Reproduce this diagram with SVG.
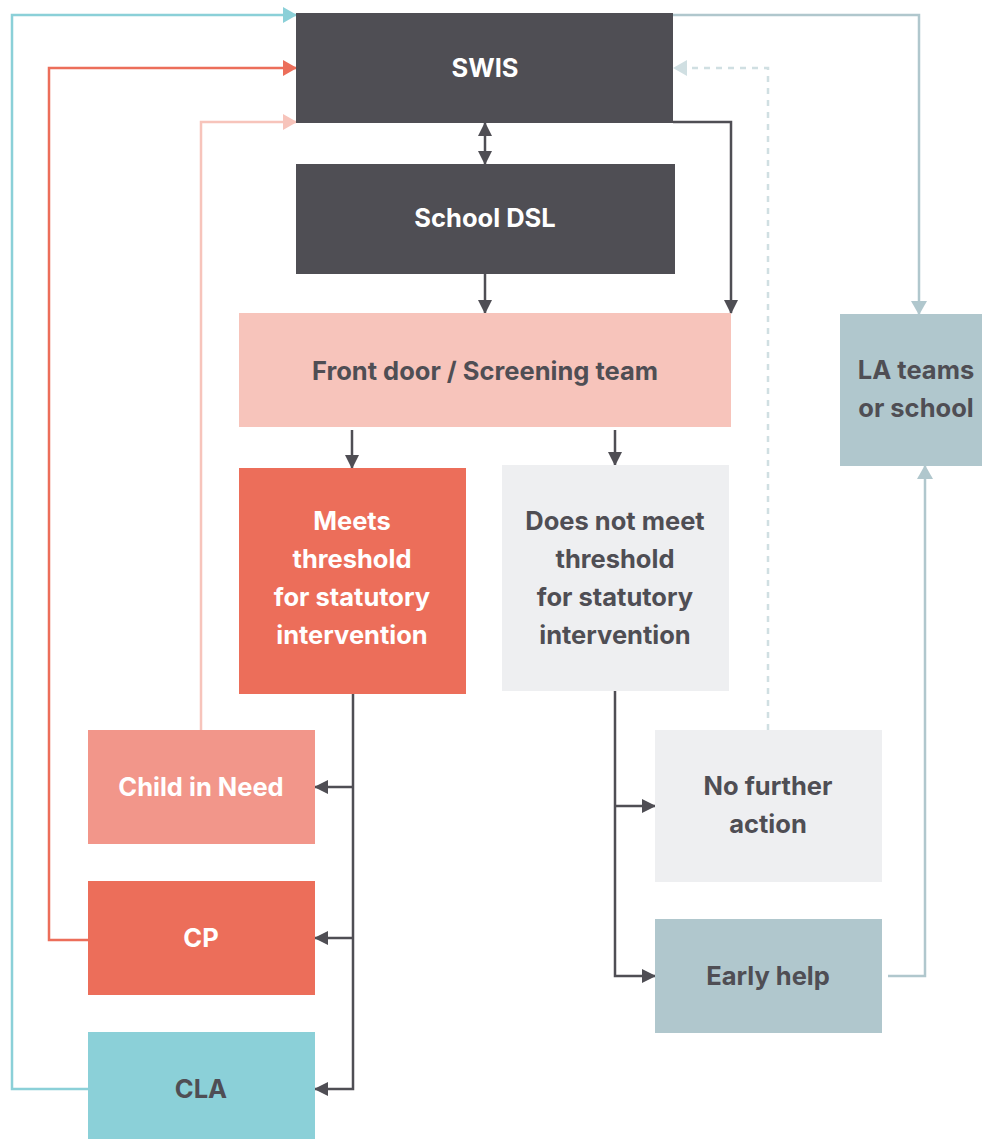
<svg xmlns="http://www.w3.org/2000/svg" width="982" height="1139" viewBox="0 0 982 1139">
<style>
.t{font-family:Inter,"Liberation Sans",Arial,sans-serif;font-weight:700;font-size:25.5px;text-anchor:middle;dominant-baseline:central}
.w{fill:#ffffff}
.d{fill:#4f4e54}
.c{fill:none;stroke-width:2.5}
</style>
<defs>
<marker id="mDark" markerUnits="userSpaceOnUse" markerWidth="14" markerHeight="14" viewBox="0 0 14 14" refX="13" refY="7" orient="auto-start-reverse"><path d="M0,0 L14,7 L0,14 z" fill="#4f4e54"/></marker>
<marker id="mCyan" markerUnits="userSpaceOnUse" markerWidth="14" markerHeight="16" viewBox="0 0 14 16" refX="13" refY="8" orient="auto"><path d="M0,0 L14,8 L0,16 z" fill="#8bd0d8"/></marker>
<marker id="mRed" markerUnits="userSpaceOnUse" markerWidth="14" markerHeight="16" viewBox="0 0 14 16" refX="13" refY="8" orient="auto"><path d="M0,0 L14,8 L0,16 z" fill="#ec6e5a"/></marker>
<marker id="mPink" markerUnits="userSpaceOnUse" markerWidth="14" markerHeight="16" viewBox="0 0 14 16" refX="13" refY="8" orient="auto"><path d="M0,0 L14,8 L0,16 z" fill="#f7c4bb"/></marker>
<marker id="mGrey" markerUnits="userSpaceOnUse" markerWidth="14" markerHeight="16" viewBox="0 0 14 16" refX="13" refY="8" orient="auto"><path d="M0,0 L14,8 L0,16 z" fill="#b0c7cd"/></marker>
<marker id="mDash" markerUnits="userSpaceOnUse" markerWidth="14" markerHeight="16" viewBox="0 0 14 16" refX="13" refY="8" orient="auto"><path d="M0,0 L14,8 L0,16 z" fill="#d0dfe2"/></marker>
</defs>
<rect width="982" height="1139" fill="#ffffff"/>
<g id="connectors">
<path class="c" stroke="#8bd0d8" d="M88,1089 H12 V15 H296" marker-end="url(#mCyan)"/>
<path class="c" stroke="#ec6e5a" d="M88,940 H49 V68 H296" marker-end="url(#mRed)"/>
<path class="c" stroke="#f7c4bb" d="M201,730 V122 H296" marker-end="url(#mPink)"/>
<path class="c" stroke="#b0c7cd" d="M673,15 H919 V314" marker-end="url(#mGrey)"/>
<path class="c" stroke="#d0dfe2" stroke-dasharray="6,6" d="M768,730 V68 H674" marker-end="url(#mDash)"/>
<path class="c" stroke="#4f4e54" d="M673,122 H731 V313" marker-end="url(#mDark)"/>
<path class="c" stroke="#4f4e54" d="M485,123 V164" marker-start="url(#mDark)" marker-end="url(#mDark)"/>
<path class="c" stroke="#4f4e54" d="M485,273 V313" marker-end="url(#mDark)"/>
<path class="c" stroke="#4f4e54" d="M352,430 V468" marker-end="url(#mDark)"/>
<path class="c" stroke="#4f4e54" d="M615,430 V465" marker-end="url(#mDark)"/>
<path class="c" stroke="#4f4e54" d="M353,694 V1089 H315" marker-end="url(#mDark)"/>
<path class="c" stroke="#4f4e54" d="M354,787 H315" marker-end="url(#mDark)"/>
<path class="c" stroke="#4f4e54" d="M354,938 H315" marker-end="url(#mDark)"/>
<path class="c" stroke="#4f4e54" d="M615,691 V976 H655" marker-end="url(#mDark)"/>
<path class="c" stroke="#4f4e54" d="M615,806 H655" marker-end="url(#mDark)"/>
<path class="c" stroke="#b0c7cd" d="M888,976 H925 V466" marker-end="url(#mGrey)"/>
</g>
<g id="swis"><rect x="296" y="13" width="377" height="110" fill="#4f4e54"/><text class="t w" x="485" y="67">SWIS</text></g>
<g id="school-dsl"><rect x="296" y="164" width="379" height="110" fill="#4f4e54"/><text class="t w" x="485" y="217">School DSL</text></g>
<g id="front-door"><rect x="239" y="313" width="492" height="114" fill="#f7c4bb"/><text class="t d" x="485" y="370">Front door / Screening team</text></g>
<g id="la-teams"><rect x="840" y="314" width="152" height="152" fill="#b0c7cd"/><text class="t d" x="916" y="369">LA teams</text><text class="t d" x="916" y="407">or school</text></g>
<g id="meets"><rect x="239" y="468" width="227" height="226" fill="#ec6e5a"/><text class="t w" x="352" y="520">Meets</text><text class="t w" x="352" y="558">threshold</text><text class="t w" x="352" y="596">for statutory</text><text class="t w" x="352" y="634">intervention</text></g>
<g id="not-meets"><rect x="502" y="465" width="227" height="226" fill="#eeeff1"/><text class="t d" x="615" y="520">Does not meet</text><text class="t d" x="615" y="558">threshold</text><text class="t d" x="615" y="596">for statutory</text><text class="t d" x="615" y="634">intervention</text></g>
<g id="child-in-need"><rect x="88" y="730" width="227" height="114" fill="#f2968a"/><text class="t w" x="201" y="786">Child in Need</text></g>
<g id="cp"><rect x="88" y="881" width="227" height="114" fill="#ec6e5a"/><text class="t w" x="201" y="937">CP</text></g>
<g id="cla"><rect x="88" y="1032" width="227" height="114" fill="#8bd0d8"/><text class="t d" x="201" y="1088">CLA</text></g>
<g id="no-further-action"><rect x="655" y="730" width="227" height="152" fill="#eeeff1"/><text class="t d" x="768" y="785">No further</text><text class="t d" x="768" y="823">action</text></g>
<g id="early-help"><rect x="655" y="919" width="227" height="114" fill="#b0c7cd"/><text class="t d" x="768" y="975">Early help</text></g>
</svg>
